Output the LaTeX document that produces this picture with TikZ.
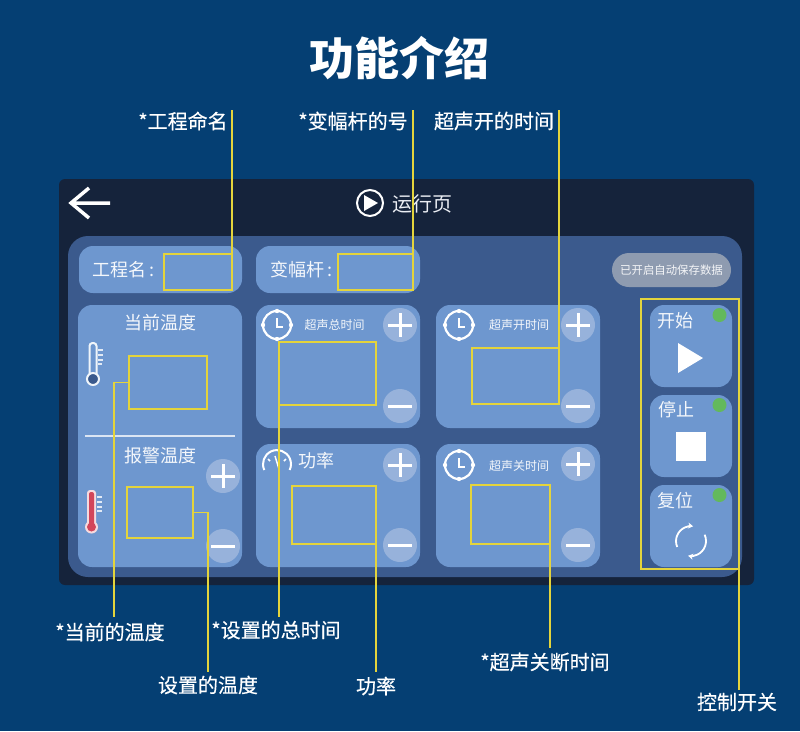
\documentclass[tikz,border=0pt]{standalone}
\usepackage{fontspec}
\setmainfont{Noto Sans CJK SC}
\newfontfamily\callfont[FakeBold=0.3]{Noto Sans CJK SC}
\usepackage{xcolor}
\usepackage{tikz}
\usetikzlibrary{arrows.meta}
\definecolor{pageblue}{HTML}{053F73}
\definecolor{framedark}{HTML}{15233B}
\definecolor{panelblue}{HTML}{3B5A8D}
\definecolor{cardblue}{HTML}{6E97CF}
\definecolor{roundblue}{HTML}{97B2DB}
\definecolor{pillgrey}{HTML}{8E9BB0}
\definecolor{leadyellow}{HTML}{E4D43C}
\definecolor{lampgreen}{HTML}{63B95C}
\definecolor{thermored}{HTML}{D2455A}
\newcommand{\fs}[1]{\fontsize{#1}{#1}\selectfont}
\tikzset{
	card/.style={fill=cardblue,rounded corners=14pt},
	fieldbox/.style={draw=leadyellow,line width=1.5pt,inner sep=0pt,outer sep=0pt},
	lead/.style={draw=leadyellow,line width=1.3pt},
	calltext/.style={text=white,font=\callfont\fs{20},inner sep=0pt},
	cardtext/.style={text=white!92!cardblue,font=\fs{18},inner sep=0pt},
	smalltext/.style={text=white!92!cardblue,font=\fs{12},inner sep=0pt},
	roundbtn/.style={circle,fill=roundblue,minimum size=34pt,inner sep=0pt},
	lamp/.style={circle,fill=lampgreen,minimum size=14pt,inner sep=0pt},
	plusbtn/.pic={
		\draw[white,line width=3pt] (-12,0) -- (12,0) (0,-12) -- (0,12);
	},
	minusbtn/.pic={
		\draw[white,line width=3pt] (-12,0) -- (12,0);
	},
	clockicon/.pic={
		\draw[white,line width=2.2pt] (0,0) circle (14);
		\fill[white] (-14,0) circle (2.2) (14,0) circle (2.2) (0,-14) circle (2.2) (0,14) circle (2.2);
		\draw[white,line width=1.6pt] (0,-7) -- (0,2) -- (6,2);
	},
}
\begin{document}
\begin{tikzpicture}[x=1pt,y=-1pt]
		\useasboundingbox (0,0) rectangle (800,731);
		\fill[pageblue] (0,0) rectangle (800,731);
		\fill[framedark,rounded corners=6pt] (59,179) rectangle (754,585);
		\fill[panelblue,rounded corners=20pt] (68,236) rectangle (742,577);
		%
		\node[text=white,font=\fs{45}\bfseries,inner sep=0pt] (title) at (399,58) {功能介绍};
		%
		\draw[white,line width=3.5pt] (110,203) -- (71,203) (89,188) -- (71,203) -- (89,218);
		\draw[white,line width=2pt] (370,203) circle (13);
		\fill[white] (364,195) -- (364,211) -- (378,203) -- cycle;
		\node[text=white!90!panelblue,font=\fs{20},inner sep=0pt] (runpage) at (422,204) {运行页};
		%
		\path[card] (79,246) rectangle (242,293);
		\path[card] (256,246) rectangle (420,293);
		\path[card] (78,305) rectangle (242,567);
		\path[card] (256,305) rectangle (420,428);
		\path[card] (256,444) rectangle (420,567);
		\path[card] (436,305) rectangle (600,428);
		\path[card] (436,444) rectangle (600,567);
		\path[card] (650,305) rectangle (732,387);
		\path[card] (650,395) rectangle (732,477);
		\path[card] (650,485) rectangle (732,567);
		\node[fill=pillgrey,rounded corners=17pt,minimum width=119pt,minimum height=34pt,inner sep=0pt,text=white!90!pillgrey,font=\fs{11.4}] (autosave) at (671.5,270) {已开启自动保存数据};
		%
		\node[cardtext,anchor=west] (nameText) at (92,270) {工程名\hspace{3pt}:};
		\node[cardtext,anchor=west] (hornText) at (270,270) {变幅杆\hspace{3pt}:};
		\node[cardtext] (curText) at (160,323) {当前温度};
		\node[cardtext] (alarmText) at (160,456) {报警温度};
		\node[smalltext] (totalText) at (334.5,325) {超声总时间};
		\node[smalltext] (onText) at (519,325) {超声开时间};
		\node[smalltext] (offText) at (519,466) {超声关时间};
		\node[cardtext] (powerText) at (316,461) {功率};
		\node[cardtext] (startText) at (675,321) {开始};
		\node[cardtext] (stopText) at (676,410) {停止};
		\node[cardtext] (resetText) at (675,501) {复位};
		%
		\draw[white!75!cardblue,line width=1.5pt] (85,436) -- (235,436);
		%
		\draw[white!90!cardblue,line width=2pt,rounded corners=3pt] (89.5,374) -- (89.5,343) -- (96.5,343) -- (96.5,374);
		\draw[white!90!cardblue,line width=2pt,fill=panelblue] (93,379) circle (6);
		\draw[white!80!cardblue,line width=1.3pt] (98,350) -- (103,350) (98,355) -- (103,355) (98,360) -- (103,360) (98,364) -- (102,364);
		\fill[white!80!thermored,rounded corners=3pt] (87,490) rectangle (96,525);
		\fill[white!80!thermored] (91.5,527) circle (6.5);
		\fill[thermored,rounded corners=2pt] (89,492) rectangle (94,527);
		\fill[thermored] (91.5,527) circle (4.5);
		\draw[white!80!cardblue,line width=1.3pt] (97,497) -- (102,497) (97,502) -- (102,502) (97,507) -- (102,507) (97,511) -- (102,511);
		%
		\path (277,325) pic {clockicon} (459,325) pic {clockicon} (459,465) pic {clockicon};
		\draw[white,line width=2pt] (264.3,470) arc (155:385:14);
		\draw[white,line width=1.5pt] (275,456) -- (279,469) (268,459) -- (270,461) (286,459) -- (284,461);
		%
		\node[roundbtn] (totalPlus) at (400,325) {};
		\node[roundbtn] (totalMinus) at (400,406) {};
		\node[roundbtn] (powerPlus) at (400,465) {};
		\node[roundbtn] (powerMinus) at (400,545) {};
		\node[roundbtn] (onPlus) at (578,325) {};
		\node[roundbtn] (onMinus) at (578,406) {};
		\node[roundbtn] (offPlus) at (578,464) {};
		\node[roundbtn] (offMinus) at (578,545) {};
		\node[roundbtn] (alarmPlus) at (223,476) {};
		\node[roundbtn] (alarmMinus) at (223,546) {};
		\path (totalPlus) pic {plusbtn} (powerPlus) pic {plusbtn} (onPlus) pic {plusbtn} (offPlus) pic {plusbtn} (alarmPlus) pic {plusbtn};
		\path (totalMinus) pic {minusbtn} (powerMinus) pic {minusbtn} (onMinus) pic {minusbtn} (offMinus) pic {minusbtn} (alarmMinus) pic {minusbtn};
		%
		\node[lamp] (startLamp) at (719.5,315) {};
		\node[lamp] (stopLamp) at (719.5,405) {};
		\node[lamp] (resetLamp) at (719.5,495) {};
		\fill[white] (678,343) -- (678,373) -- (703,358) -- cycle;
		\fill[white] (676,432) rectangle (706,461);
		\draw[white,line width=1.8pt,-{Stealth[length=5pt,width=6pt]}] (677.2,547) arc (157:278:15);
		\draw[white,line width=1.8pt,-{Stealth[length=5pt,width=6pt]}] (704.6,534.7) arc (-25:101:15);
		%
		\node[fieldbox,minimum width=68pt,minimum height=36pt] (nameBox) at (198,272) {};
		\node[fieldbox,minimum width=75pt,minimum height=36pt] (hornBox) at (375.5,272) {};
		\node[fieldbox,minimum width=78pt,minimum height=53pt] (curBox) at (168,382.5) {};
		\node[fieldbox,minimum width=66pt,minimum height=51pt] (alarmBox) at (160,512.5) {};
		\node[fieldbox,minimum width=97pt,minimum height=63pt] (totalBox) at (327.5,373.5) {};
		\node[fieldbox,minimum width=84pt,minimum height=58pt] (powerBox) at (334,515) {};
		\node[fieldbox,minimum width=87pt,minimum height=56pt] (onBox) at (515.5,376) {};
		\node[fieldbox,minimum width=79pt,minimum height=59pt] (offBox) at (510.5,514.5) {};
		\node[fieldbox,minimum width=98pt,minimum height=270pt] (ctrlBox) at (690,434) {};
		%
		\node[calltext] (nameCall) at (183,121) {*工程命名};
		\node[calltext] (hornCall) at (353,121) {*变幅杆的号};
		\node[calltext] (onCall) at (494,121) {超声开的时间};
		\node[calltext] (curCall) at (110,632) {*当前的温度};
		\node[calltext] (totalCall) at (276,630) {*设置的总时间};
		\node[calltext] (alarmCall) at (208,685) {设置的温度};
		\node[calltext] (powerCall) at (376,686) {功率};
		\node[calltext] (offCall) at (545,662) {*超声关断时间};
		\node[calltext] (ctrlCall) at (737,702) {控制开关};
		%
		\coordinate (nameTop) at (232,110);
		\coordinate (hornTop) at (413,110);
		\coordinate (onTop) at (559,110);
		\coordinate (curEnd) at (114,617);
		\coordinate (totalEnd) at (279,617);
		\coordinate (alarmEnd) at (208,672);
		\coordinate (powerEnd) at (376,672);
		\coordinate (offEnd) at (550,648);
		\coordinate (ctrlEnd) at (739,690);
		\path[lead]
		(nameBox.north east) -- (nameTop)
		(hornBox.north east) -- (hornTop)
		(onBox.north east) -- (onTop)
		(curBox.west) -| (curEnd)
		(totalBox.south west) -- (totalEnd)
		(alarmBox.east) -| (alarmEnd)
		(powerBox.south east) -- (powerEnd)
		(offBox.south east) -- (offEnd)
		(ctrlBox.south east) -- (ctrlEnd);
		\end{tikzpicture}
\end{document}
